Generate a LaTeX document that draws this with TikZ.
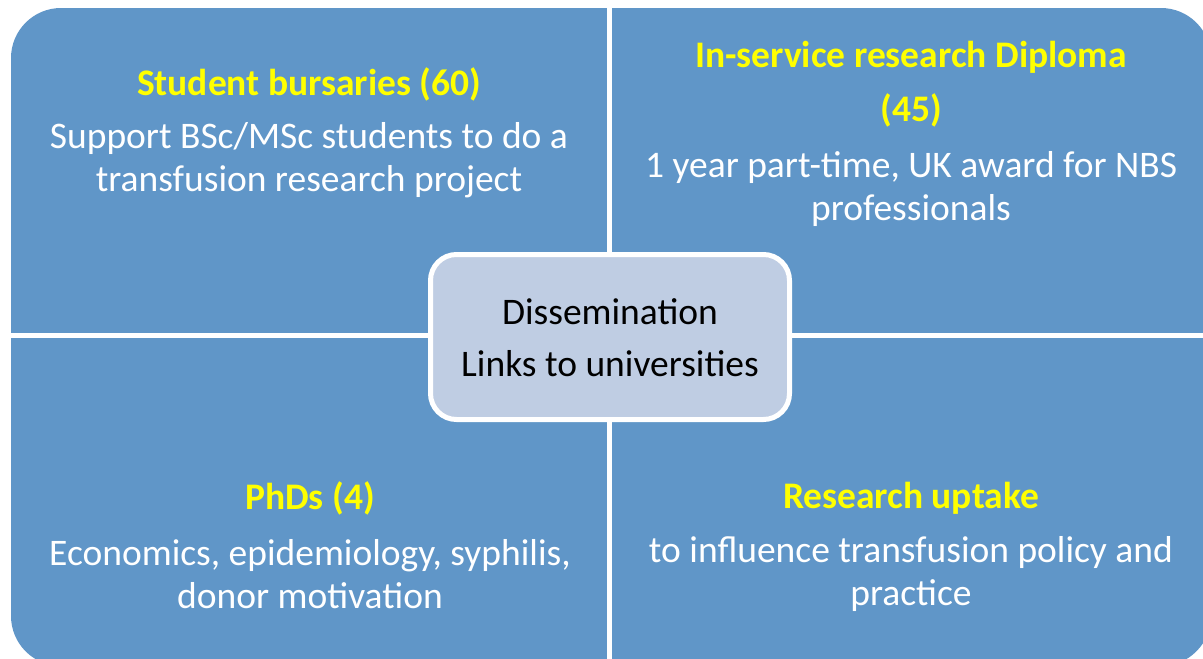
\documentclass[tikz,border=0pt]{standalone}
\usepackage{fontspec}
\setmainfont{Carlito}
\definecolor{quad}{RGB}{96,150,200}
\definecolor{centerfill}{RGB}{191,205,227}
\definecolor{titleyellow}{RGB}{255,255,0}
\begin{document}
\begin{tikzpicture}[x=1pt,y=-1pt,
  title/.style={text=titleyellow,font=\fontsize{37.5}{54}\selectfont\bfseries,align=center,inner sep=0pt},
  body/.style={text=white,font=\fontsize{37.5}{43}\selectfont,align=center,inner sep=0pt},
  hub/.style={draw=white,line width=5pt,fill=centerfill,rounded corners=26pt,minimum width=359pt,minimum height=165pt,font=\fontsize{37.5}{52}\selectfont,align=center,text=black}]
\useasboundingbox (0,0) rectangle (1203,659);
\fill[white] (0,0) rectangle (1203,659);
\begin{scope}
\clip (0,0) rectangle (1203,659);
\fill[quad,rounded corners=50pt] (11,8) rectangle (1211,666);
\fill[white] (607,0) rectangle (612,659);
\fill[white] (0,333) rectangle (1203,338);
\end{scope}
\node[hub] (hub) at (610,337) {};
\node[text=black,font=\fontsize{37.5}{52}\selectfont,align=center,inner sep=0pt] (hubtext) at (610,338) {Dissemination\\Links to universities};
\node[title] (t1) at (309,84) {Student bursaries (60)};
\node[body] (b1) at (309,160) {Support BSc/MSc students to do a\\transfusion research project};
\node[title] (t2) at (911,84) {In-service research Diploma\\(45)};
\node[body] (b2) at (911,189) {1 year part-time, UK award for NBS\\professionals};
\node[title] (t3) at (310,498) {PhDs (4)};
\node[body] (b3) at (310,574) {Economics, epidemiology, syphilis,\\donor motivation};
\node[title] (t4) at (911,498) {Research uptake};
\node[body] (b4) at (911,574) {to influence transfusion policy and\\practice};
\end{tikzpicture}
\end{document}
